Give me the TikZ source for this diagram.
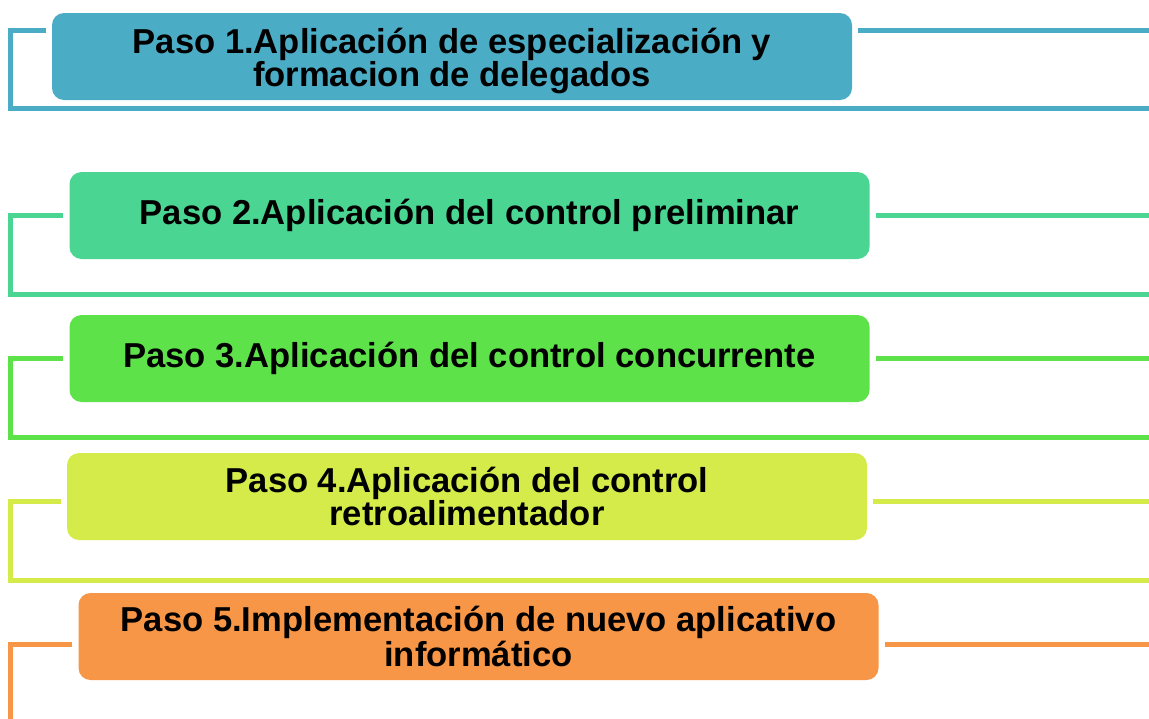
\documentclass[tikz,border=0pt]{standalone}
\usepackage{fontspec}
\setmainfont{Liberation Sans}
\usetikzlibrary{positioning}
\definecolor{pasoA}{HTML}{4BACC6}
\definecolor{pasoB}{HTML}{4AD692}
\definecolor{pasoC}{HTML}{5EE24A}
\definecolor{pasoD}{HTML}{D5EB4A}
\definecolor{pasoE}{HTML}{F79646}
\tikzset{stepbox/.style={rounded corners=6pt, minimum width=400pt, minimum height=43.5pt,
    inner sep=0pt, align=center, font=\bfseries\fontsize{17.3}{16.2}\selectfont}}
\tikzset{bracket/.style={line width=2.5pt}}

\begin{document}
\begin{tikzpicture}[x=0.5pt,y=-0.5pt]
  \useasboundingbox (0,0) rectangle (1149,718);

  % Paso 1
  \node[stepbox, fill=pasoA] (p1) at (452,56.5) {\rule{0pt}{17pt}Paso 1.Aplicación de especialización y\\formacion de delegados};
  \coordinate (r1) at (1149,30);
  \coordinate (b1) at (1149,108);
  \draw[bracket, pasoA] ([xshift=-3pt]p1.west |- r1) -| (10,108) -- (b1);
  \draw[bracket, pasoA] ([xshift=3pt]p1.east |- r1) -- (r1);

  % Paso 2
  \node[stepbox, fill=pasoB] (p2) at (469.5,215.5) {Paso 2.Aplicación del control preliminar};
  \coordinate (r2) at (1149,215.5);
  \coordinate (b2) at (1149,294.5);
  \draw[bracket, pasoB] ([xshift=-3pt]p2.west |- r2) -| (10,294.5) -- (b2);
  \draw[bracket, pasoB] ([xshift=3pt]p2.east |- r2) -- (r2);

  % Paso 3
  \node[stepbox, fill=pasoC] (p3) at (469.5,358.5) {Paso 3.Aplicación del control concurrente};
  \coordinate (r3) at (1149,358.5);
  \coordinate (b3) at (1149,437.5);
  \draw[bracket, pasoC] ([xshift=-3pt]p3.west |- r3) -| (10,437.5) -- (b3);
  \draw[bracket, pasoC] ([xshift=3pt]p3.east |- r3) -- (r3);

  % Paso 4
  \node[stepbox, fill=pasoD] (p4) at (467,496.5) {Paso 4.Aplicación del control\\retroalimentador};
  \coordinate (r4) at (1149,501);
  \coordinate (b4) at (1149,580.5);
  \draw[bracket, pasoD] ([xshift=-3pt]p4.west |- r4) -| (10,580.5) -- (b4);
  \draw[bracket, pasoD] ([xshift=3pt]p4.east |- r4) -- (r4);

  % Paso 5
  \node[stepbox, fill=pasoE] (p5) at (478.5,636.5) {Paso 5.Implementación de nuevo aplicativo\\informático};
  \coordinate (r5) at (1149,644);
  \coordinate (b5) at (10,722);
  \draw[bracket, pasoE] ([xshift=-3pt]p5.west |- r5) -| (b5);
  \draw[bracket, pasoE] ([xshift=3pt]p5.east |- r5) -- (r5);
\end{tikzpicture}
\end{document}
